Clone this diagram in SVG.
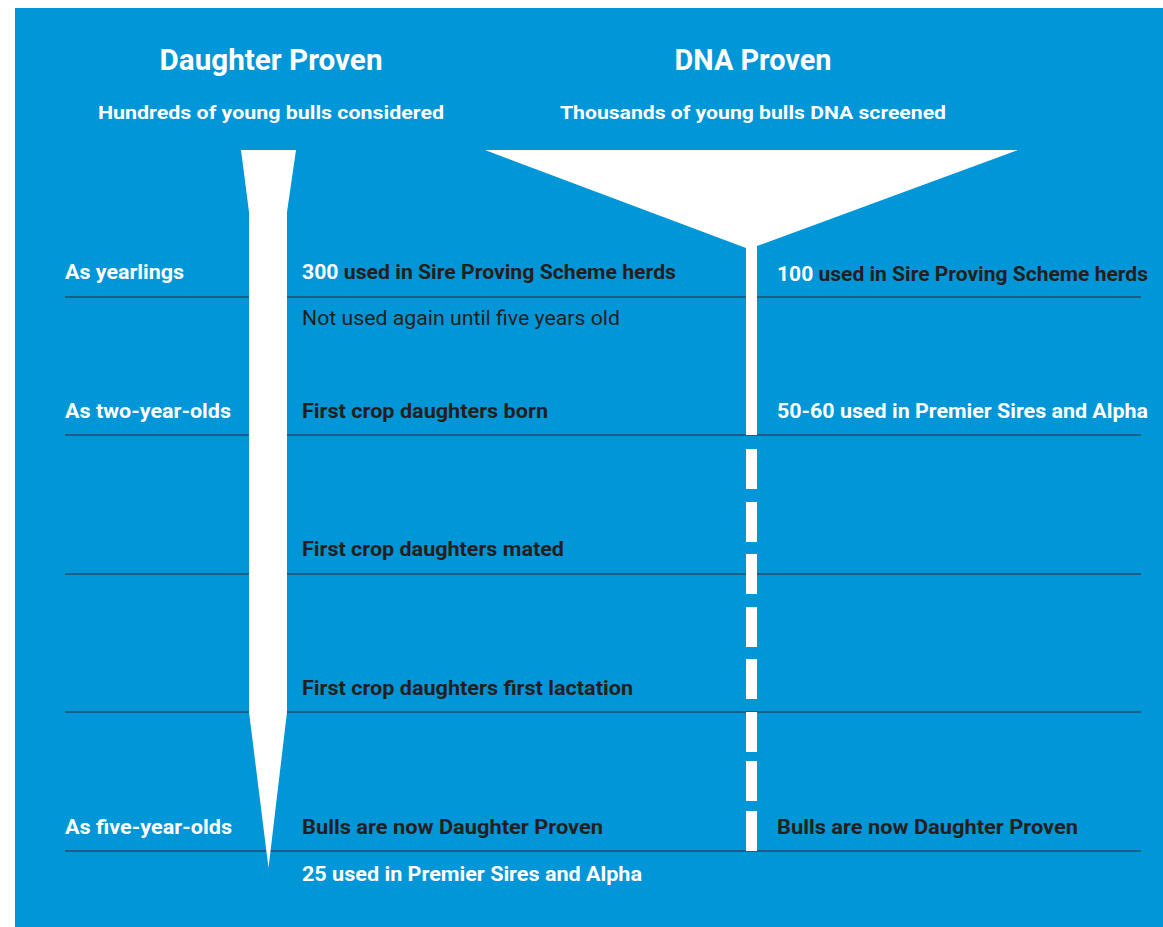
<svg xmlns="http://www.w3.org/2000/svg" width="1163" height="927" viewBox="0 0 1163 927">
  <style>
    text { font-family: Roboto, "Liberation Sans", sans-serif; font-weight: 700; }
    .title { font-size: 29px; fill: #ffffff; }
    .sub { font-size: 19px; fill: #ffffff; }
    .lbl { font-size: 19.5px; fill: #ffffff; }
    .dark { font-size: 19.5px; fill: #231f20; }
    .wht { fill: #ffffff; }
    .reg { font-weight: 400; }
    .rule { stroke: #1d4f6e; stroke-width: 1.5; fill: none; }
    .shape { fill: #ffffff; }
    .dash { fill: #ffffff; }
  </style>

  <rect x="0" y="0" width="1163" height="927" fill="#ffffff"/>
  <rect x="15" y="8" width="1148" height="919" fill="#0096d7"/>

  <!-- timeline rules -->
  <g id="rules">
    <line class="rule" x1="65" y1="297" x2="1141" y2="297"/>
    <line class="rule" x1="65" y1="435" x2="1141" y2="435"/>
    <line class="rule" x1="65" y1="574" x2="1141" y2="574"/>
    <line class="rule" x1="65" y1="712" x2="1141" y2="712"/>
    <line class="rule" x1="65" y1="851" x2="1141" y2="851"/>
  </g>

  <!-- column headings -->
  <g id="head-daughter">
    <text class="title" x="271" y="70" text-anchor="middle" textLength="223" lengthAdjust="spacingAndGlyphs">Daughter Proven</text>
    <text class="sub" x="271" y="119" text-anchor="middle" textLength="346" lengthAdjust="spacingAndGlyphs">Hundreds of young bulls considered</text>
  </g>
  <g id="head-dna">
    <text class="title" x="753" y="70" text-anchor="middle" textLength="157" lengthAdjust="spacingAndGlyphs">DNA Proven</text>
    <text class="sub" x="753" y="119" text-anchor="middle" textLength="386" lengthAdjust="spacingAndGlyphs">Thousands of young bulls DNA screened</text>
  </g>

  <!-- daughter-proven spike -->
  <g id="spike">
    <polygon class="shape" points="241,150 296,150 287,212 287,712 268.5,868 249,712 249,212"/>
  </g>

  <!-- DNA funnel and stem -->
  <g id="funnel">
    <polygon class="shape" points="485,150 1018,150 757,246 757,435 746,435 746,248"/>
  </g>

  <!-- dashed continuation -->
  <g id="dashes">
    <rect class="dash" x="746" y="449" width="11" height="40"/>
    <rect class="dash" x="746" y="502" width="11" height="40"/>
    <rect class="dash" x="746" y="554" width="11" height="40"/>
    <rect class="dash" x="746" y="607" width="11" height="40"/>
    <rect class="dash" x="746" y="659" width="11" height="40"/>
    <rect class="dash" x="746" y="712" width="11" height="40"/>
    <rect class="dash" x="746" y="761" width="11" height="40"/>
    <rect class="dash" x="746" y="811" width="11" height="40"/>
  </g>

  <!-- row: yearlings -->
  <g id="row-yearlings">
    <text class="lbl" x="65" y="279" textLength="119" lengthAdjust="spacingAndGlyphs">As yearlings</text>
    <text class="dark" x="302" y="279" textLength="374" lengthAdjust="spacingAndGlyphs"><tspan class="wht">300</tspan> used in Sire Proving Scheme herds</text>
    <text class="dark" x="777" y="281" textLength="371" lengthAdjust="spacingAndGlyphs"><tspan class="wht">100</tspan> used in Sire Proving Scheme herds</text>
    <text class="dark reg" x="302" y="325" textLength="318" lengthAdjust="spacingAndGlyphs">Not used again until five years old</text>
  </g>

  <!-- row: two-year-olds -->
  <g id="row-two">
    <text class="lbl" x="65" y="418" textLength="166" lengthAdjust="spacingAndGlyphs">As two-year-olds</text>
    <text class="dark" x="302" y="418" textLength="246" lengthAdjust="spacingAndGlyphs">First crop daughters born</text>
    <text class="lbl" x="777" y="418" textLength="371" lengthAdjust="spacingAndGlyphs">50-60 used in Premier Sires and Alpha</text>
  </g>

  <!-- row: mated -->
  <g id="row-mated">
    <text class="dark" x="302" y="556" textLength="262" lengthAdjust="spacingAndGlyphs">First crop daughters mated</text>
  </g>

  <!-- row: lactation -->
  <g id="row-lactation">
    <text class="dark" x="302" y="695" textLength="331" lengthAdjust="spacingAndGlyphs">First crop daughters first lactation</text>
  </g>

  <!-- row: five-year-olds -->
  <g id="row-five">
    <text class="lbl" x="65" y="834" textLength="167" lengthAdjust="spacingAndGlyphs">As five-year-olds</text>
    <text class="dark" x="302" y="834" textLength="301" lengthAdjust="spacingAndGlyphs">Bulls are now Daughter Proven</text>
    <text class="dark" x="777" y="834" textLength="301" lengthAdjust="spacingAndGlyphs">Bulls are now Daughter Proven</text>
    <text class="lbl" x="302" y="881" textLength="340" lengthAdjust="spacingAndGlyphs">25 used in Premier Sires and Alpha</text>
  </g>
</svg>
